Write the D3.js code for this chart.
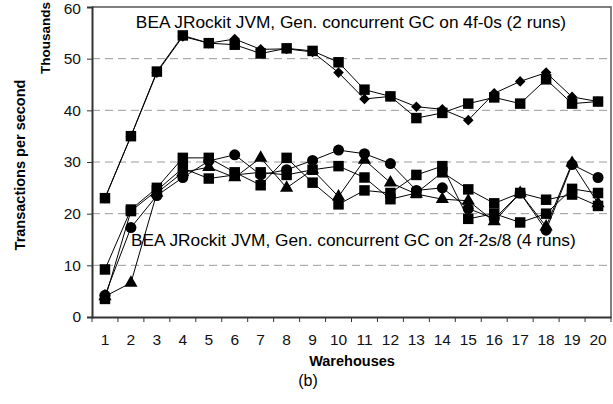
<!DOCTYPE html>
<html>
<head>
<meta charset="utf-8">
<script src="https://cdn.jsdelivr.net/npm/d3@7"></script>
<style>
  body { margin: 0; background: #fff; }
  svg { font-family: "Liberation Sans", Arial, sans-serif; }
</style>
</head>
<body>
<script>
//data
const warehouses = d3.range(1, 21);
const yTicks = [0, 10, 20, 30, 40, 50, 60];

// 4f-0s (2 runs)
const top4f_sq = [23, 35, 47.5, 54.5, 53, 52.7, 51, 52, 51.5, 49.3, 44, 42.7, 38.5, 39.5, 41.3, 42.5, 41.3, 46, 41.3, 41.7];
const top4f_dia = [23, 35, 47.3, 54.3, 53, 53.8, 51.8, 51.9, 51.3, 47.3, 42.2, 42.7, 40.7, 40.2, 38.1, 43.3, 45.6, 47.3, 42.6, 41.7];

// 2f-2s/8 (4 runs)
const low_circle = [4.2, 17.3, 23.5, 27, 30.2, 31.4, 27.5, 28.5, 30.3, 32.3, 31.6, 29.7, 24.5, 25, 21, 19, 24, 16.8, 29.5, 27];
const low_tri = [4, 6.6, 24, 28, 29, 27, 30.8, 25, 28.5, 23.3, 30.4, 26, 23.8, 22.8, 22.5, 18.5, 24, 17.5, 29.8, 22];
const low_sqA = [9.2, 20.8, 25, 30.8, 30.8, 28, 25.5, 30.8, 26, 21.8, 24.5, 24, 27.5, 29.2, 19, 20, 18.3, 20, 24.8, 24];
const low_sqB = [3.5, 20.5, 24.5, 28.8, 26.8, 27.5, 28, 27.5, 28.5, 29.2, 27, 22.8, 24, 28, 24.7, 22, 24, 22.7, 23.7, 21.5];

const series = [
  { values: low_sqB, marker: "square" },
  { values: low_tri, marker: "triangle" },
  { values: low_circle, marker: "circle" },
  { values: low_sqA, marker: "square" },
  { values: top4f_dia, marker: "diamond" },
  { values: top4f_sq, marker: "square" }
];

//SVG setup
const W = 613, H = 404;
const margin = { top: 7, right: 2, bottom: 87, left: 92 };

const svg = d3.select("body").append("svg")
  .attr("width", W)
  .attr("height", H);

const x = d3.scaleBand()
  .domain(warehouses)
  .range([margin.left, W - margin.right])
  .padding(0);

const y = d3.scaleLinear()
  .domain([0, 60])
  .range([H - margin.bottom, margin.top]);

const cx = d => x(d) + x.bandwidth() / 2;

//gridlines
svg.append("g")
  .selectAll("line")
  .data(yTicks.filter(d => d > 0 && d < 60))
  .join("line")
  .attr("x1", margin.left)
  .attr("x2", W - margin.right)
  .attr("y1", d => y(d))
  .attr("y2", d => y(d))
  .attr("stroke", "#9a9a9a")
  .attr("stroke-dasharray", "8,5");

//plot border (top + right)
svg.append("path")
  .attr("d", `M${margin.left},${y(60)}H${W - margin.right}V${y(0)}`)
  .attr("fill", "none")
  .attr("stroke", "#555")
  .attr("stroke-width", 1.5);

//y axis
const yAxis = svg.append("g")
  .attr("transform", `translate(${margin.left},0)`)
  .call(d3.axisLeft(y).tickValues(yTicks).tickSize(5).tickPadding(6));
yAxis.select(".domain").attr("stroke", "#333").attr("stroke-width", 2);
yAxis.selectAll(".tick line").attr("stroke", "#333");
yAxis.selectAll("text").attr("font-size", 15.5).attr("fill", "#111");
// keep the top label inside the page
yAxis.selectAll(".tick text").filter(d => d === 60).attr("y", 2);

//x axis: ticks at band edges
const xAxis = svg.append("g")
  .attr("transform", `translate(0,${y(0)})`)
  .call(d3.axisBottom(x).tickSize(0).tickPadding(17));
xAxis.select(".domain").attr("stroke", "#333").attr("stroke-width", 2);
xAxis.selectAll("text").attr("font-size", 15.5).attr("fill", "#111");
xAxis.selectAll(".edge")
  .data(warehouses.concat([21]))
  .join("line")
  .attr("class", "edge")
  .attr("x1", d => margin.left + (d - 1) * x.bandwidth())
  .attr("x2", d => margin.left + (d - 1) * x.bandwidth())
  .attr("y1", 0)
  .attr("y2", 5)
  .attr("stroke", "#333");

//series
const line = d3.line()
  .x((d, i) => cx(warehouses[i]))
  .y(d => y(d));

const symbols = {
  square: d3.symbol().type(d3.symbolSquare).size(110),
  circle: d3.symbol().type(d3.symbolCircle).size(95),
  triangle: d3.symbol().type(d3.symbolTriangle).size(75),
  diamond: d3.symbol().type(d3.symbolSquare).size(56)
};

series.forEach(s => {
  svg.append("path")
    .datum(s.values)
    .attr("d", line)
    .attr("fill", "none")
    .attr("stroke", "#000")
    .attr("stroke-width", 1);
});

series.forEach(s => {
  svg.append("g")
    .selectAll("path")
    .data(s.values)
    .join("path")
    .attr("d", symbols[s.marker])
    .attr("transform", (d, i) =>
      `translate(${cx(warehouses[i])},${y(d)})` + (s.marker === "diamond" ? " rotate(45)" : ""))
    .attr("fill", "#000");
});

//annotations
svg.append("text")
  .attr("x", 351)
  .attr("y", 28)
  .attr("text-anchor", "middle")
  .attr("font-size", 17.3)
  .text("BEA JRockit JVM, Gen. concurrent GC on 4f-0s (2 runs)");

svg.append("text")
  .attr("x", 131)
  .attr("y", 246)
  .attr("font-size", 17.3)
  .text("BEA JRockit JVM, Gen. concurrent GC on 2f-2s/8 (4 runs)");

//axis titles
svg.append("text")
  .attr("transform", "translate(25,165) rotate(-90)")
  .attr("text-anchor", "middle")
  .attr("font-size", 14.5)
  .attr("font-weight", "bold")
  .text("Transactions per second");

svg.append("text")
  .attr("transform", "translate(50,38) rotate(-90)")
  .attr("text-anchor", "middle")
  .attr("font-size", 13.5)
  .attr("font-weight", "bold")
  .text("Thousands");

svg.append("text")
  .attr("x", 352)
  .attr("y", 366)
  .attr("text-anchor", "middle")
  .attr("font-size", 14.5)
  .attr("font-weight", "bold")
  .text("Warehouses");

svg.append("text")
  .attr("x", 308)
  .attr("y", 386)
  .attr("text-anchor", "middle")
  .attr("font-size", 16)
  .text("(b)");
</script>
</body>
</html>
